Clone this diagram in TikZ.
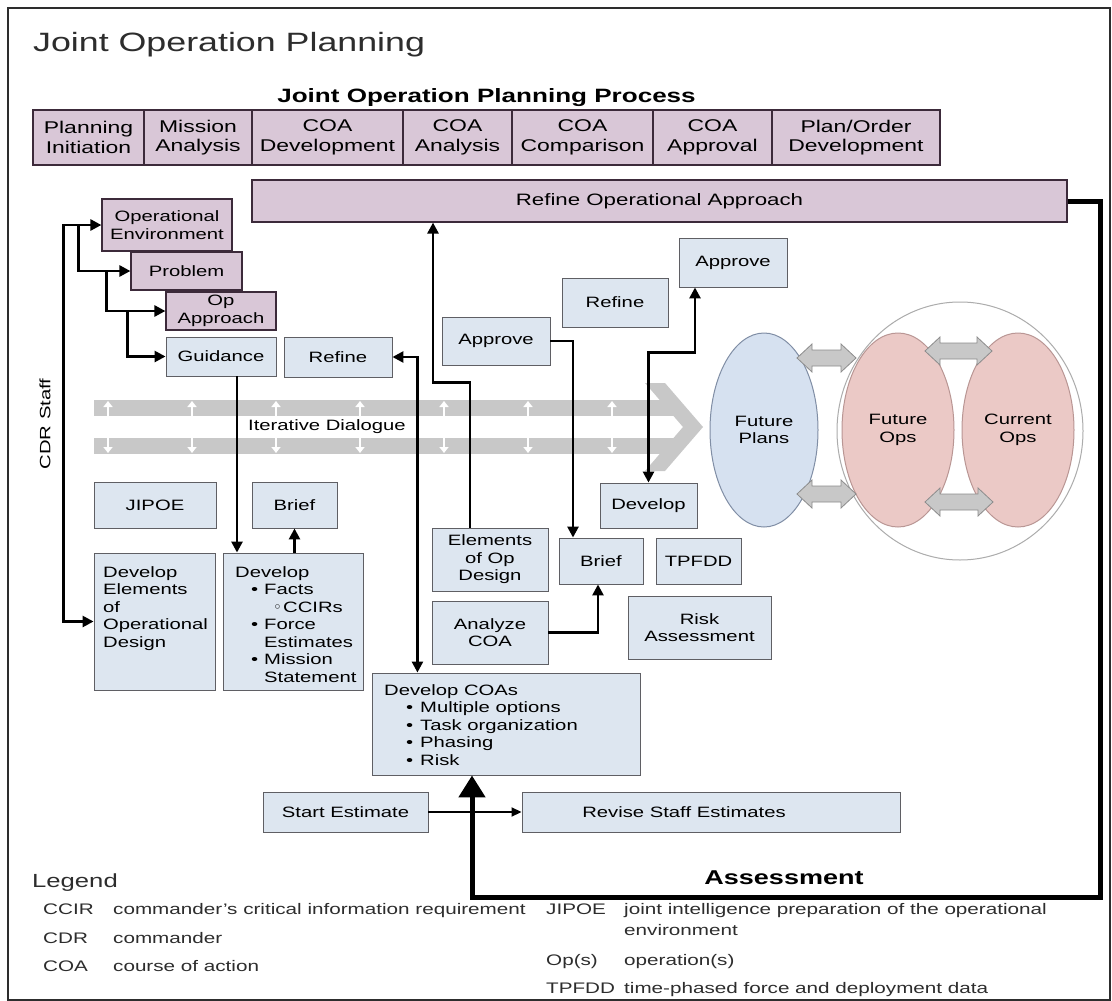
\documentclass[tikz,border=0pt]{standalone}
\usepackage{fontspec}
\setmainfont[FakeStretch=1.35]{Liberation Sans}
\newfontfamily\jpsym{DejaVu Sans}
\usetikzlibrary{shapes.geometric,arrows.meta,calc}

% colours
\definecolor{mauve}{RGB}{217,199,215}
\definecolor{mauveline}{RGB}{60,42,58}
\definecolor{paleblue}{RGB}{221,230,240}
\definecolor{boxline}{RGB}{95,95,100}
\definecolor{planblue}{RGB}{214,225,240}
\definecolor{planline}{RGB}{128,142,165}
\definecolor{opspink}{RGB}{235,201,198}
\definecolor{opsline}{RGB}{185,150,148}
\definecolor{bandgray}{RGB}{200,200,200}
\definecolor{arrowgray}{RGB}{200,200,200}
\definecolor{arrowline}{RGB}{140,140,140}
\definecolor{inkgray}{RGB}{45,45,45}

% font sizes (1pt = 1 unit of the drawing)
\newcommand\jpbox{\fontsize{15}{17.5}\selectfont}
\newcommand\jpcell{\fontsize{17}{19.5}\selectfont}
\newcommand\jpwide{\fontsize{16.5}{19}\selectfont}
\newcommand\jptitle{\fontsize{26.5}{30}\selectfont}
\newcommand\jphead{\bfseries\fontsize{19.3}{22}\selectfont}
\newcommand\jpassess{\bfseries\fontsize{20}{23}\selectfont}
\newcommand\jplegendhead{\fontsize{19}{22}\selectfont}
\newcommand\jplegend{\fontsize{15.3}{18}\selectfont}

% list markers
\newcommand\jpitem{\hspace*{16pt}\makebox[13pt][l]{\textbullet}}
\newcommand\jpsub{\hspace*{38pt}\makebox[10pt][l]{{\jpsym ◦}}}
\newcommand\jpcoaitem{\hspace*{22pt}\makebox[14pt][l]{\textbullet}}

% two-headed grey arrow between the ellipses
\newcommand\jpdblarrow[3]{%
  \filldraw[fill=arrowgray, draw=arrowline, line width=0.8pt]
    (#1,#3) -- (#1+15,#3-14) -- (#1+15,#3-8) -- (#2-15,#3-8) -- (#2-15,#3-14)
    -- (#2,#3) -- (#2-15,#3+14) -- (#2-15,#3+8) -- (#1+15,#3+8) -- (#1+15,#3+14) -- cycle;}

\tikzset{
  wh/.style 2 args={minimum width=#1pt, minimum height=#2pt},
  cell/.style={draw=mauveline, line width=1.4pt, fill=mauve, inner sep=0pt,
    align=center, font=\jpcell, text=black},
  mbox/.style={draw=mauveline, line width=1.2pt, fill=mauve, inner sep=0pt,
    align=center, font=\jpbox, text=black},
  bbox/.style={draw=boxline, line width=0.9pt, fill=paleblue, inner sep=0pt,
    align=center, font=\jpbox, text=black},
  oval/.style={ellipse, line width=1pt, inner sep=0pt, align=center, font=\jpbox},
  jparrow/.style={line width=2.6pt, -{Triangle[length=11pt,width=11pt]}},
  jpboth/.style={line width=2.6pt,
    {Triangle[length=11pt,width=11pt]}-{Triangle[length=11pt,width=11pt]}},
  jpthin/.style={line width=1.8pt, -{Triangle[length=10pt,width=9pt]}},
  jpthick/.style={line width=5pt, -{Triangle[length=22pt,width=26pt]}},
  legtxt/.style={font=\jplegend, anchor=base west, inner sep=0pt, text=inkgray},
}

\begin{document}
\begin{tikzpicture}[x=1pt, y=-1pt]
\useasboundingbox (0,0) rectangle (1112,1001);
\fill[white] (0,0) rectangle (1112,1001);
\draw[line width=1.6pt, inkgray] (8,8) rectangle (1110,1000);

% titles
\node[font=\jptitle, anchor=base west, inner sep=0pt, text=inkgray] (title) at (33,51) {Joint Operation Planning};
\node[font=\jphead, anchor=base, inner sep=0pt] (jopp) at (486.5,102) {Joint Operation Planning Process};

% process steps
\node[cell, wh={111}{55}] (pi)  at (88.5,137.5)  {Planning\\Initiation};
\node[cell, wh={108}{55}] (ma)  at (198,137.5)   {Mission\\Analysis};
\node[cell, wh={151}{55}] (cd)  at (327.5,137.5) {COA\\Development};
\node[cell, wh={109}{55}] (ca)  at (457.5,137.5) {COA\\Analysis};
\node[cell, wh={141}{55}] (cc)  at (582.5,137.5) {COA\\Comparison};
\node[cell, wh={119}{55}] (cap) at (712.5,137.5) {COA\\Approval};
\node[cell, wh={168}{55}] (pod) at (856,137.5)   {Plan/Order\\Development};

\node[mbox, wh={815}{42}, font=\jpwide] (roa) at (659.5,201) {Refine Operational Approach};

% iterative dialogue band
\fill[bandgray] (94,400) rectangle (676,416);
\fill[bandgray] (94,438) rectangle (676,454);
\fill[bandgray] (645,383) -- (665,383) -- (703,427) -- (665,471) -- (645,471) -- (683,427) -- cycle;
\foreach \x in {108,192,276,360,444,528,612}
  \draw[white, line width=2.6pt,
    {Triangle[length=6pt,width=9pt]}-{Triangle[length=6pt,width=9pt]}] (\x,401) -- (\x,453);
\node[font=\jpbox] (iter) at (327,427) {Iterative Dialogue};

\node[font=\jpbox, rotate=90] (cdr) at (45,424) {CDR Staff};

% commander's design steps
\node[mbox, wh={130}{52}] (openv) at (167,225)   {Operational\\Environment};
\node[mbox, wh={111}{38}] (prob)  at (186.5,271) {Problem};
\node[mbox, wh={110}{38}] (opapp) at (221,311)   {Op\\Approach};
\node[bbox, wh={110}{39}] (guid)  at (221,356.5) {Guidance};
\node[bbox, wh={108}{40}] (refl)  at (338,357)   {Refine};

\node[bbox, wh={108}{48}] (appm) at (496,341)   {Approve};
\node[bbox, wh={106}{49}] (refr) at (615,302.5) {Refine};
\node[bbox, wh={108}{49}] (appr) at (733,262.5) {Approve};

% staff products
\node[bbox, wh={122}{46}] (jipoe)  at (155,505)   {JIPOE};
\node[bbox, wh={85}{46}]  (briefl) at (294.5,505) {Brief};
\node[bbox, wh={121}{137}] (develem) at (154.5,621.5) {};
\node[font=\jpbox, align=left, anchor=north west, inner sep=0pt] (develemtxt) at (103,566)
  {Develop\\Elements\\of\\Operational\\Design};
\node[bbox, wh={140}{137}] (devlist) at (293,621.5) {};
\node[font=\jpbox, align=left, anchor=north west, inner sep=0pt] (devlisttxt) at (235,566)
  {Develop\\\jpitem Facts\\\jpsub CCIRs\\\jpitem Force\\\hspace*{29pt}Estimates\\\jpitem Mission\\\hspace*{29pt}Statement};

\node[bbox, wh={97}{45}]  (devr)   at (648.5,505.5) {Develop};
\node[bbox, wh={116}{63}] (elem)   at (490,559.5)   {Elements\\of Op\\Design};
\node[bbox, wh={84}{46}]  (briefm) at (601,561)     {Brief};
\node[bbox, wh={85}{46}]  (tpfdd)  at (698.5,561)   {TPFDD};
\node[bbox, wh={116}{63}] (anal)   at (490,632.5)   {Analyze\\COA};
\node[bbox, wh={143}{63}] (risk)   at (699.5,627.5) {Risk\\Assessment};

\node[bbox, wh={268}{102}] (devcoa) at (506,724) {};
\node[font=\jpbox, align=left, anchor=north west, inner sep=0pt] (devcoatxt) at (384,684)
  {Develop COAs\\\jpcoaitem Multiple options\\\jpcoaitem Task organization\\\jpcoaitem Phasing\\\jpcoaitem Risk};

\node[bbox, wh={165}{40}] (start)  at (345.5,812) {Start Estimate};
\node[bbox, wh={378}{40}] (revise) at (711,812)   {Revise Staff Estimates\hspace{54pt}};

% plans and operations
\node[oval, draw=gray!65, fill=white, wh={246}{258}] (ring) at (960,431) {};
\node[oval, draw=planline, fill=planblue, wh={108}{194}] (fplans) at (764,430) {Future\\Plans};
\node[oval, draw=opsline, fill=opspink, wh={112}{194}] (fops) at (898,430) {Future\\Ops};
\node[oval, draw=opsline, fill=opspink, wh={112}{194}] (cops) at (1018,430) {Current\\Ops};
\jpdblarrow{797}{856}{358}
\jpdblarrow{797}{856}{494}
\jpdblarrow{925}{992}{351}
\jpdblarrow{925}{993}{502}

% connectors
\draw[jpboth] (openv.west) -- ++(-38,0) |- (develem.west);
\draw[jparrow] ([xshift=-23pt]openv.west) |- (prob.west);
\draw[jparrow] ([xshift=-24pt]prob.west) |- (opapp.west);
\draw[jparrow] ([xshift=-38pt]opapp.west) |- (guid.west);

\coordinate (g1) at ([xshift=16pt]guid.south);
\draw[jparrow] (g1) -- (g1 |- devlist.north);
\draw[jparrow] (briefl.south |- devlist.north) -- (briefl.south);

\coordinate (r1) at ([xshift=25pt]refl.east);
\draw[jpboth] (refl.east) -- (r1) -- (r1 |- devcoa.north);

\coordinate (e1) at ([xshift=-20pt]elem.north);
\coordinate (e2) at ([xshift=-57pt]elem.north);
\draw[jparrow] (e1) -- ++(0,-145) -| (e2 |- roa.south);

\coordinate (a1) at ([xshift=-28pt]briefm.north);
\draw[jparrow] (appm.east) -| (a1);
\coordinate (a2) at ([xshift=-3pt]briefm.south);
\draw[jparrow] (anal.east) -| (a2);

\coordinate (a3) at ([xshift=-38pt]appr.south);
\draw[jpboth] (devr.north) -- ++(0,-130) -| (a3);

\draw[jpthin] (start.east) -- (revise.west);

\coordinate (a4) at ([xshift=-34pt]devcoa.south);
\draw[jpthick] (roa.east) -- ++(33,0) -- ++(0,696) -| (a4);
\node[font=\jpassess] (assess) at (784,878) {Assessment};

% legend
\node[font=\jplegendhead, anchor=base west, inner sep=0pt, text=inkgray] (leg) at (32,887) {Legend};
\node[legtxt] (k1) at (43,914)  {CCIR};
\node[legtxt] (v1) at (113,914) {commander's critical information requirement};
\node[legtxt] (k2) at (43,943)  {CDR};
\node[legtxt] (v2) at (113,943) {commander};
\node[legtxt] (k3) at (43,971)  {COA};
\node[legtxt] (v3) at (113,971) {course of action};
\node[legtxt] (k4) at (546,914) {JIPOE};
\node[legtxt] (v4) at (624,914) {joint intelligence preparation of the operational};
\node[legtxt] (v4b) at (624,935) {environment};
\node[legtxt] (k5) at (546,965) {Op(s)};
\node[legtxt] (v5) at (624,965) {operation(s)};
\node[legtxt] (k6) at (546,993) {TPFDD};
\node[legtxt] (v6) at (624,993) {time-phased force and deployment data};
\end{tikzpicture}
\end{document}
